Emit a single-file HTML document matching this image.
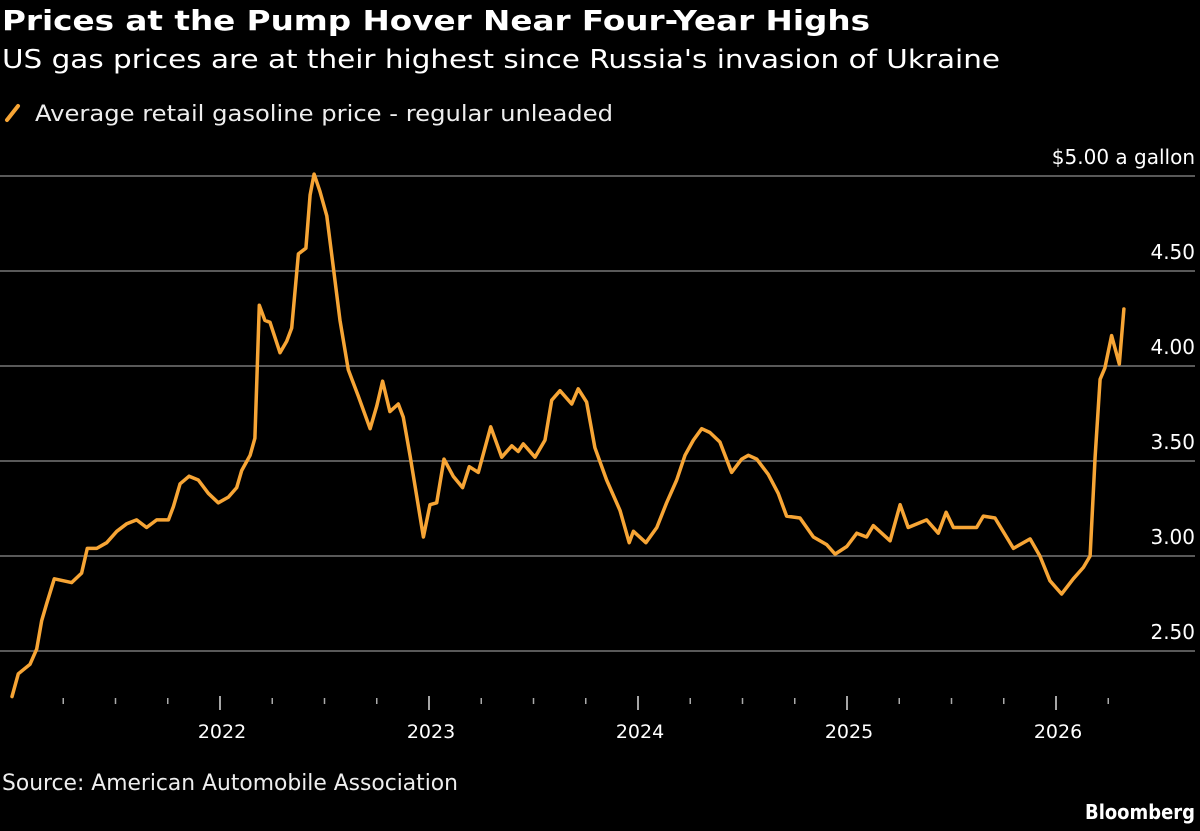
<!DOCTYPE html>
<html><head><meta charset="utf-8">
<style>
html,body{margin:0;padding:0;background:#000;}
body{width:1200px;height:831px;overflow:hidden;position:relative;font-family:"DejaVu Sans","Liberation Sans",sans-serif;color:#fff;}
</style></head>
<body>
<svg id="chart" width="1200" height="831" style="position:absolute;left:0;top:0" font-family="DejaVu Sans, Liberation Sans, sans-serif">
<text x="2" y="30" font-size="28" font-weight="bold" fill="#fff" textLength="868" lengthAdjust="spacingAndGlyphs">Prices at the Pump Hover Near Four-Year Highs</text>
<text x="2" y="68" font-size="26" fill="#fff" textLength="998" lengthAdjust="spacingAndGlyphs">US gas prices are at their highest since Russia's invasion of Ukraine</text>
<line x1="7" y1="120" x2="18" y2="106" stroke="#f7a535" stroke-width="4" stroke-linecap="round"/>
<text x="35" y="121" font-size="22" fill="#eee" textLength="578" lengthAdjust="spacingAndGlyphs">Average retail gasoline price - regular unleaded</text>
<text x="2" y="790" font-size="22" fill="#eee" textLength="456" lengthAdjust="spacingAndGlyphs">Source: American Automobile Association</text>
<text x="1195" y="819" text-anchor="end" font-size="20" font-weight="bold" fill="#fff" textLength="110" lengthAdjust="spacingAndGlyphs">Bloomberg</text>
</svg>
<script>
const dates=[2021.005,2021.035,2021.091,2021.123,2021.147,2021.171,2021.207,2021.249,2021.290,2021.338,2021.365,2021.410,2021.458,2021.506,2021.554,2021.601,2021.649,2021.697,2021.753,2021.777,2021.809,2021.852,2021.896,2021.944,2021.992,2022.040,2022.080,2022.104,2022.144,2022.167,2022.176,2022.188,2022.215,2022.239,2022.287,2022.319,2022.343,2022.375,2022.411,2022.431,2022.450,2022.478,2022.511,2022.542,2022.574,2022.614,2022.662,2022.718,2022.750,2022.778,2022.813,2022.853,2022.877,2022.909,2022.973,2023.005,2023.037,2023.072,2023.116,2023.161,2023.193,2023.236,2023.295,2023.348,2023.396,2023.427,2023.451,2023.507,2023.555,2023.587,2023.627,2023.683,2023.714,2023.754,2023.794,2023.850,2023.914,2023.958,2023.978,2024.038,2024.090,2024.137,2024.185,2024.225,2024.265,2024.305,2024.344,2024.392,2024.448,2024.496,2024.528,2024.568,2024.623,2024.671,2024.711,2024.775,2024.839,2024.903,2024.943,2024.999,2025.047,2025.094,2025.126,2025.206,2025.254,2025.293,2025.381,2025.437,2025.474,2025.509,2025.620,2025.652,2025.708,2025.796,2025.876,2025.923,2025.971,2026.027,2026.083,2026.131,2026.163,2026.187,2026.211,2026.234,2026.266,2026.303,2026.325];
const prices=[2.26,2.38,2.43,2.51,2.66,2.75,2.88,2.87,2.86,2.91,3.04,3.04,3.07,3.13,3.17,3.19,3.15,3.19,3.19,3.26,3.38,3.42,3.40,3.33,3.28,3.31,3.36,3.45,3.53,3.62,3.92,4.32,4.24,4.23,4.07,4.13,4.20,4.59,4.62,4.90,5.01,4.92,4.79,4.52,4.24,3.98,3.84,3.67,3.79,3.92,3.76,3.80,3.73,3.53,3.10,3.27,3.28,3.51,3.42,3.36,3.47,3.44,3.68,3.52,3.58,3.55,3.59,3.52,3.61,3.82,3.87,3.80,3.88,3.81,3.57,3.40,3.24,3.07,3.13,3.07,3.15,3.28,3.40,3.53,3.61,3.67,3.65,3.60,3.44,3.51,3.53,3.51,3.43,3.33,3.21,3.20,3.10,3.06,3.01,3.05,3.12,3.10,3.16,3.08,3.27,3.15,3.19,3.12,3.23,3.15,3.15,3.21,3.20,3.04,3.09,3.00,2.87,2.80,2.88,2.94,3.00,3.52,3.93,3.99,4.16,4.01,4.30];
const yTicks=[5.0,4.5,4.0,3.5,3.0,2.5];
const yTickLabels=["$5.00 a gallon","4.50","4.00","3.50","3.00","2.50"];
const xYears=[2022,2023,2024,2025,2026];
const xQuarters=[2021.25,2021.5,2021.75,2022.25,2022.5,2022.75,2023.25,2023.5,2023.75,2024.25,2024.5,2024.75,2025.25,2025.5,2025.75,2026.25];
const X=t=>11+(t-2021)*209;
const Y=v=>176+(5-v)*190;
const svg=document.getElementById('chart');
const NS='http://www.w3.org/2000/svg';
function mk(tag,attrs){const e=document.createElementNS(NS,tag);for(const k in attrs)e.setAttribute(k,attrs[k]);svg.appendChild(e);return e;}
yTicks.forEach((v,i)=>{
  const g=mk('line',{x1:0,x2:1195,y1:Y(v),y2:Y(v),stroke:'#777','stroke-width':1.5});
  
  
  const t=mk('text',{x:1195,y:Y(v)-12,'text-anchor':'end','font-size':20,fill:'#fff'});
  t.textContent=yTickLabels[i];
  
  
});
xQuarters.forEach(q=>{
  const l=mk('line',{x1:X(q),x2:X(q),y1:698,y2:704,stroke:'#aaa','stroke-width':1.5});
  
  
});
xYears.forEach(y=>{
  const l=mk('line',{x1:X(y),x2:X(y),y1:696,y2:710,stroke:'#ddd','stroke-width':1.5});
  
  
  const t=mk('text',{x:X(y)+2,y:738,'text-anchor':'middle','font-size':19,fill:'#fff'});
  t.textContent=String(y);
  
  
});
const d=dates.map((t,i)=>(i?'L':'M')+X(t).toFixed(1)+','+Y(prices[i]).toFixed(1)).join(' ');
const p=mk('path',{d:d,fill:'none',stroke:'#f7a535','stroke-width':3.5,'stroke-linejoin':'round','stroke-linecap':'round'});


</script>
</body></html>
